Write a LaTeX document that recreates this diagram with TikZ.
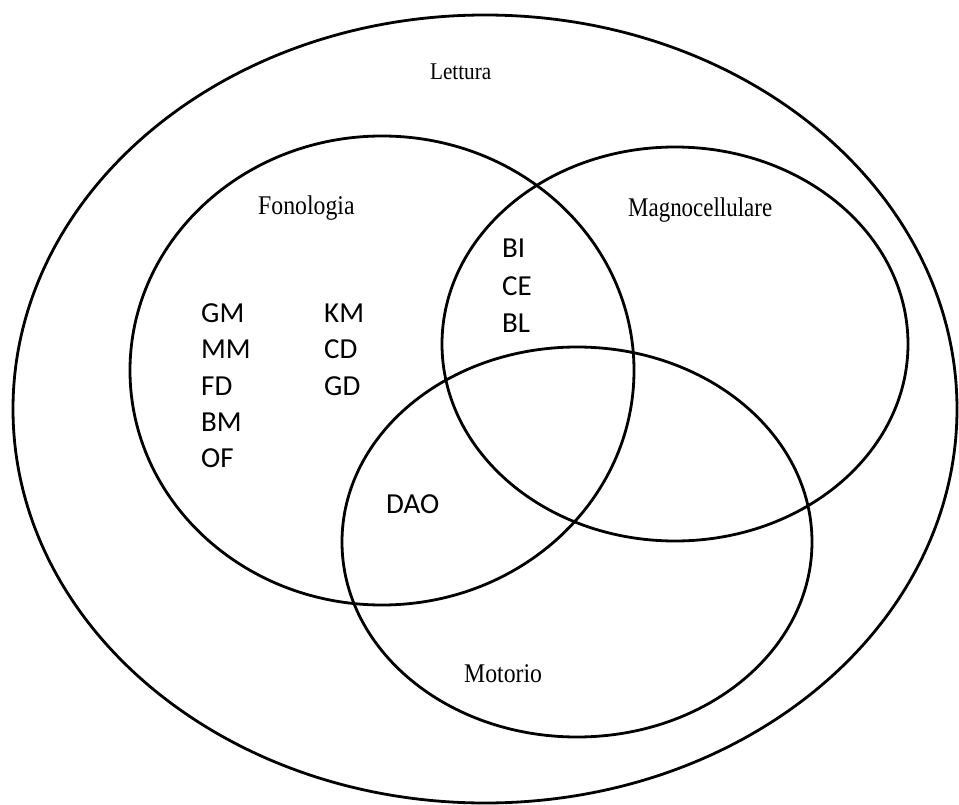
\documentclass[tikz,border=0pt]{standalone}
\usepackage{fontspec}
\setmainfont{Liberation Serif}
\newfontfamily\lblfont{Carlito}
\begin{document}
\begin{tikzpicture}[x=1pt,y=-1pt,
  setline/.style={line width=2.8pt,draw=black},
  settitle/.style={font=\fontsize{27}{30}\selectfont, anchor=base west, inner sep=0pt},
  bigtitle/.style={font=\fontsize{24}{27}\selectfont, anchor=base west, inner sep=0pt},
  lab/.style={font=\lblfont\fontsize{29}{32}\selectfont, anchor=base west, inner sep=0pt}]
\useasboundingbox (0,0) rectangle (959,805);
% sets
\draw[setline] (485,409) ellipse [x radius=472, y radius=394];
\draw[setline] (382,370.5) ellipse [x radius=252, y radius=234.5];
\draw[setline] (675,344) ellipse [x radius=233, y radius=197];
\draw[setline] (577,542) ellipse [x radius=235, y radius=195];
% titles
\node[bigtitle] (lettura) at (430,80) {\scalebox{0.88}[1]{Lettura}};
\node[settitle] (fonologia) at (258,215) {\scalebox{0.88}[1]{Fonologia}};
\node[settitle] (magno) at (628,217) {\scalebox{0.85}[1]{Magnocellulare}};
\node[settitle] (motorio) at (464,682) {\scalebox{0.88}[1]{Motorio}};
% labels
\node[lab] (gm) at (201,322) {GM};
\node[lab] (mm) at (201,358) {MM};
\node[lab] (fd) at (201,395) {FD};
\node[lab] (bm) at (201,431) {BM};
\node[lab] (of) at (201,467) {OF};
\node[lab] (km) at (324,322) {KM};
\node[lab] (cd) at (324,358) {CD};
\node[lab] (gd) at (324,395) {GD};
\node[lab] (bi) at (502,258) {BI};
\node[lab] (ce) at (502,295) {CE};
\node[lab] (bl) at (502,332) {BL};
\node[lab] (dao) at (386,513) {DAO};
\end{tikzpicture}
\end{document}
